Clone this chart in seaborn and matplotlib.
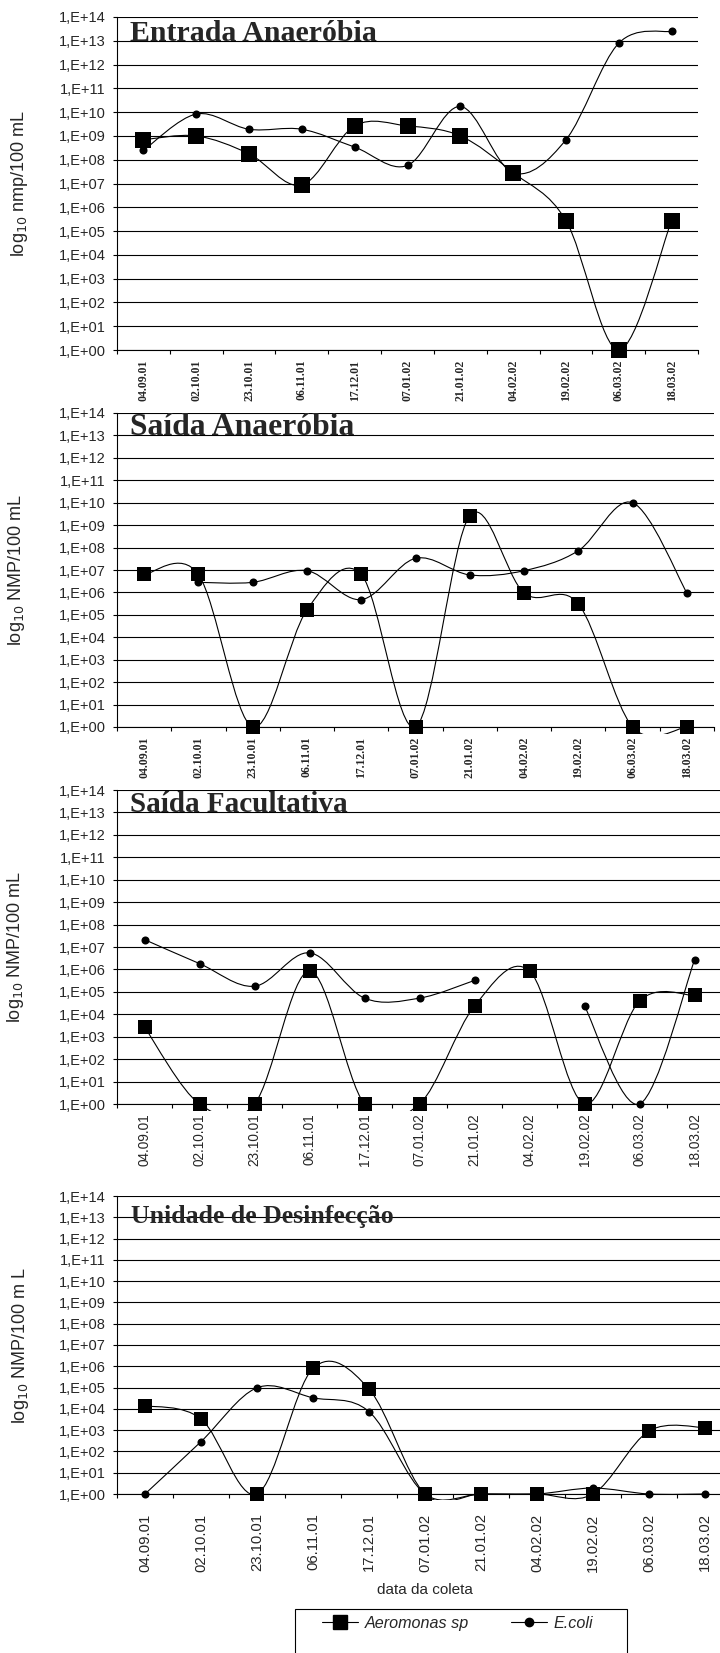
import numpy as np
import pandas as pd
import seaborn as sns
import matplotlib.pyplot as plt
from matplotlib.path import Path
from matplotlib.patches import PathPatch, Rectangle
from matplotlib.lines import Line2D

# collection dates (x categories)
dates = ["04.09.01", "02.10.01", "23.10.01", "06.11.01", "17.12.01", "07.01.02",
         "21.01.02", "04.02.02", "19.02.02", "06.03.02", "18.03.02"]

# log10 counts (nan = no sample)
aero_entrada = [8.84, 9.0, 8.25, 6.94, 9.42, 9.42, 9.0, 7.46, 5.44, 0.0, 5.44]
ecoli_entrada = [8.39, 9.92, 9.28, 9.28, 8.53, 7.76, 10.24, 7.45, 8.84, 12.9, 13.4]

aero_saida_ana = [6.8, 6.8, 0.0, 5.22, 6.8, 0.0, 9.42, 5.98, 5.49, 0.0, 0.0]
ecoli_saida_ana = [np.nan, 6.45, 6.45, 6.97, 5.68, 7.52, 6.78, 6.97, 7.86, 10.0, 5.98]

aero_facult = [3.43, 0.0, 0.0, 5.93, 0.0, 0.0, 4.37, 5.93, 0.0, 4.59, 4.84]
ecoli_facult = [7.33, 6.26, 5.25, 6.74, 4.72, 4.72, 5.51, np.nan, 4.37, 0.0, 6.41]

aero_desinf = [4.15, 3.53, 0.0, 5.9, 4.93, 0.0, 0.0, 0.0, 0.0, 2.96, 3.12]
ecoli_desinf = [0.0, 2.46, 4.99, 4.52, 3.87, 0.0, 0.0, 0.0, 0.28, 0.0, 0.0]

titles = ["Entrada Anaeróbia", "Saída Anaeróbia", "Saída Facultativa",
          "Unidade de Desinfecção"]
title_sizes = [21.5, 22.8, 21, 18.5]
ylabels = [r"log$_{10}$ nmp/100 mL", r"log$_{10}$ NMP/100 mL",
           r"log$_{10}$ NMP/100 mL", r"log$_{10}$ NMP/100 m L"]
ytick_labels = ["1,E+%02d" % k for k in range(15)]

sns.set_style("white")
plt.rcParams["font.family"] = ["Liberation Sans", "DejaVu Sans"]

W, H = 720, 1653
fig = plt.figure(figsize=(W / 100, H / 100), dpi=100)

# panel boxes in pixels: left, right, top, bottom
boxes = [(117, 698, 17, 350), (117, 714, 413, 727),
         (117, 722, 790, 1104), (117, 733, 1196, 1494)]


def smooth_curve(ax, x, y):
    # Excel-like smoothed line (cubic Bezier through points), split at gaps
    y = np.asarray(y, dtype=float)
    ok = ~np.isnan(y)
    runs, cur = [], []
    for i in range(len(y)):
        if ok[i]:
            cur.append(i)
        elif cur:
            runs.append(cur)
            cur = []
    if cur:
        runs.append(cur)
    clip = Rectangle((-0.5, -0.3), len(x), 15, transform=ax.transData)
    for run in runs:
        P = np.column_stack([np.asarray(x)[run], y[run]])
        n = len(P)
        if n < 2:
            continue
        verts, codes = [P[0]], [Path.MOVETO]
        for i in range(n - 1):
            p_prev = P[i - 1] if i > 0 else P[i]
            p_next = P[i + 2] if i + 2 < n else P[i + 1]
            c1 = P[i] + (P[i + 1] - p_prev) / 6
            c2 = P[i + 1] - (p_next - P[i]) / 6
            verts += [c1, c2, P[i + 1]]
            codes += [Path.CURVE4] * 3
        patch = PathPatch(Path(verts, codes), facecolor="none", edgecolor="black",
                          lw=0.8, zorder=3)
        ax.add_patch(patch)
        patch.set_clip_path(clip)


panels = [(aero_entrada, ecoli_entrada), (aero_saida_ana, ecoli_saida_ana),
          (aero_facult, ecoli_facult), (aero_desinf, ecoli_desinf)]
idx = np.arange(len(dates))

for k, (aero, ecoli) in enumerate(panels):
    l, r, t, b = boxes[k]
    ax = fig.add_axes([l / W, 1 - b / H, (r - l) / W, (b - t) / H])
    df = pd.DataFrame({"x": idx, "aero": aero, "ecoli": ecoli})

    smooth_curve(ax, idx, aero)
    smooth_curve(ax, idx, ecoli)
    sq = 11 if k == 0 else 9.5
    sns.scatterplot(data=df, x="x", y="aero", marker="s", s=sq ** 2, color="black",
                    edgecolor="black", linewidth=0, ax=ax, zorder=4, clip_on=False)
    sns.scatterplot(data=df, x="x", y="ecoli", marker="o", s=5.8 ** 2, color="black",
                    edgecolor="black", linewidth=0, ax=ax, zorder=4, clip_on=False)

    ax.set_xlim(-0.5, len(dates) - 0.5)
    ax.set_ylim(0, 14)
    ax.set_yticks(range(15))
    ax.set_yticklabels(ytick_labels, fontsize=10.5)
    ax.yaxis.grid(True, color="black", lw=0.8)
    ax.set_axisbelow(True)
    for s in ("top", "right"):
        ax.spines[s].set_visible(False)
    for s in ("left", "bottom"):
        ax.spines[s].set_color("black")
        ax.spines[s].set_linewidth(0.8)

    ax.set_xticks(idx)
    ax.set_xticks(np.arange(-0.5, len(dates)), minor=True)
    ax.tick_params(axis="x", which="major", length=0)
    ax.tick_params(axis="x", which="minor", length=3, width=0.8, color="black",
                   direction="out", bottom=True)
    ax.tick_params(axis="y", length=3, width=0.8, color="black", direction="out",
                   left=True, pad=5)
    if k < 2:
        ax.set_xticklabels(dates, rotation=90, fontsize=8.5,
                           fontfamily="Liberation Serif", fontweight="bold")
        ax.tick_params(axis="x", which="major", pad=7)
    elif k == 2:
        ax.set_xticklabels(dates, rotation=90, fontsize=9.8)
        ax.tick_params(axis="x", which="major", pad=7)
    else:
        ax.set_xticklabels(dates, rotation=90, fontsize=10.7)
        ax.tick_params(axis="x", which="major", pad=14)

    ax.set_xlabel("data da coleta" if k == 3 else "", fontsize=11, labelpad=8)
    ax.set_ylabel(ylabels[k], fontsize=13)
    ax.yaxis.set_label_coords(-0.150 if k < 3 else -0.140, 0.5)

    ty = 12.75 if k == 3 else 13
    ax.text(0.022, ty, titles[k], transform=ax.get_yaxis_transform(),
            fontfamily="Liberation Serif", fontweight="bold", fontsize=title_sizes[k],
            va="baseline", ha="left", zorder=5)

handles = [
    Line2D([], [], color="black", lw=0.8, marker="s", markersize=10, label="Aeromonas sp"),
    Line2D([], [], color="black", lw=0.8, marker="o", markersize=6, label="E.coli"),
]
leg = fig.legend(handles=handles, loc="upper left", bbox_to_anchor=(322 / W, 1 - 1616 / H),
                 ncol=2, frameon=False, handlelength=2.25, columnspacing=2.6,
                 handletextpad=0.4, borderpad=0, borderaxespad=0,
                 prop={"family": "Liberation Sans", "style": "italic", "size": 11.6})
# legend box, cut by the bottom edge as in the original
fig.patches.append(Rectangle((295 / W, -0.01), (627 - 295) / W, 0.01 + (1653 - 1609) / H,
                             transform=fig.transFigure, facecolor="none",
                             edgecolor="black", lw=0.8))

fig.savefig("out.png", dpi=100)
